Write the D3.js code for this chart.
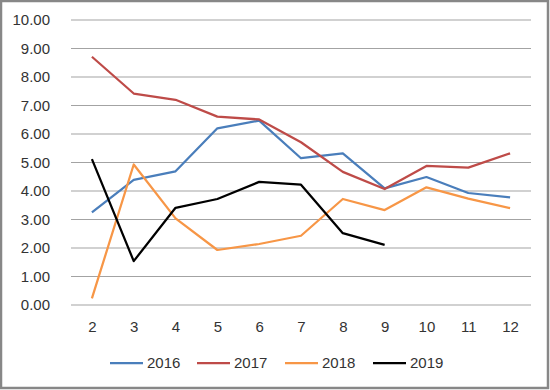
<!DOCTYPE html>
<html>
<head>
<meta charset="utf-8">
<script src="https://cdn.jsdelivr.net/npm/d3@7"></script>
<style>
  body { margin: 0; background: #fff; }
  svg { display: block; font-family: "Liberation Sans", Arial, sans-serif; }
  .tick text { fill: #333; font-size: 15px; }
</style>
</head>
<body>
<svg id="chart"></svg>
<script>
// months on the x axis
const months = [2, 3, 4, 5, 6, 7, 8, 9, 10, 11, 12];
const yTicks = [0, 1, 2, 3, 4, 5, 6, 7, 8, 9, 10];

// one array per year
const y2016 = [3.25, 4.39, 4.69, 6.20, 6.47, 5.15, 5.32, 4.09, 4.49, 3.93, 3.78];
const y2017 = [8.71, 7.42, 7.20, 6.61, 6.51, 5.71, 4.67, 4.07, 4.88, 4.82, 5.32];
const y2018 = [0.23, 4.93, 3.04, 1.93, 2.14, 2.43, 3.72, 3.33, 4.13, 3.73, 3.40];
const y2019 = [5.12, 1.54, 3.41, 3.72, 4.32, 4.22, 2.52, 2.11];

const seriesNames = ["2016", "2017", "2018", "2019"];
const colors = {"2016": "#4a7ebb", "2017": "#be4b48", "2018": "#f79646", "2019": "#000000"};

const config = {
  width: 550,
  height: 390,
  margin: {top: 20, right: 19, bottom: 85, left: 71}
};

const series = [y2016, y2017, y2018, y2019].map((vals, i) => ({
  name: seriesNames[i],
  values: vals.map((v, j) => ({x: months[j], y: v}))
}));

const innerW = config.width - config.margin.left - config.margin.right;
const innerH = config.height - config.margin.top - config.margin.bottom;

const svg = d3.select('#chart')
    .attr('width', config.width)
    .attr('height', config.height);

// outer frame
svg.append('rect')
    .attr('x', 1).attr('y', 1)
    .attr('width', config.width - 3).attr('height', config.height - 3)
    .attr('fill', '#fff')
    .attr('stroke', '#878787')
    .attr('stroke-width', 2.5);

const chart = svg.append('g')
    .attr('transform', `translate(${config.margin.left},${config.margin.top})`);

const xScale = d3.scalePoint()
    .domain(months)
    .range([0, innerW])
    .padding(0.5);

const yScale = d3.scaleLinear()
    .domain([0, 10])
    .range([innerH, 0]);

// gridlines
chart.append('g')
  .selectAll('line')
  .data(yTicks)
  .join('line')
    .attr('x1', 0).attr('x2', innerW)
    .attr('y1', d => yScale(d)).attr('y2', d => yScale(d))
    .attr('stroke', '#a3a3a3')
    .attr('stroke-width', 1.2);

// y axis
const yAxisG = chart.append('g')
    .call(d3.axisLeft(yScale).tickValues(yTicks).tickFormat(d3.format('.2f')).tickSize(0).tickPadding(21));
yAxisG.select('.domain').remove();

// x axis
const xAxisG = chart.append('g')
    .attr('transform', `translate(0,${innerH})`)
    .call(d3.axisBottom(xScale).tickSize(0).tickPadding(16));
xAxisG.select('.domain').remove();

// lines
const line = d3.line()
    .x(d => xScale(d.x))
    .y(d => yScale(d.y));

chart.selectAll('.series')
  .data(series)
  .join('path')
    .attr('class', 'series')
    .attr('fill', 'none')
    .attr('stroke', d => colors[d.name])
    .attr('stroke-width', 2.25)
    .attr('stroke-linejoin', 'round')
    .attr('d', d => line(d.values));

// legend
const legendX = [110, 197, 285, 373];
const legend = svg.append('g')
    .attr('transform', 'translate(0,363)');

const items = legend.selectAll('g')
  .data(seriesNames)
  .join('g')
    .attr('transform', (d, i) => `translate(${legendX[i]},0)`);

items.append('line')
    .attr('x1', 0).attr('x2', 33)
    .attr('stroke', d => colors[d])
    .attr('stroke-width', 2.25);

items.append('text')
    .attr('x', 37)
    .attr('dy', '0.35em')
    .attr('fill', '#333')
    .style('font-size', '15px')
    .text(d => d);
</script>
</body>
</html>
